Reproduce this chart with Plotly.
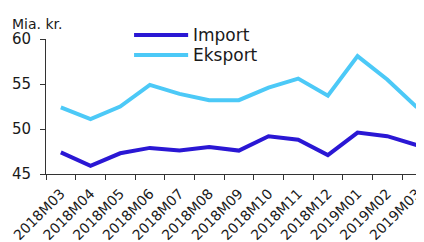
import plotly.graph_objects as go

categories = ["2018M03", "2018M04", "2018M05", "2018M06", "2018M07", "2018M08",
              "2018M09", "2018M10", "2018M11", "2018M12", "2019M01", "2019M02", "2019M03"]
import_values = [47.4, 45.9, 47.3, 47.9, 47.6, 48.0, 47.6, 49.2, 48.8, 47.1, 49.6, 49.2, 48.2]
eksport_values = [52.4, 51.1, 52.5, 54.9, 53.9, 53.2, 53.2, 54.6, 55.6, 53.7, 58.1, 55.5, 52.4]
y_ticks = [45, 50, 55, 60]
series_names = ["Import", "Eksport"]
series_colors = ["#2A17D4", "#4CC9F7"]

font_family = "DejaVu Sans, sans-serif"
text_color = "#1a1a1a"

fig = go.Figure()
for name, vals, col in zip(series_names, [import_values, eksport_values], series_colors):
    fig.add_trace(go.Scatter(x=categories, y=vals, name=name, mode="lines",
                             line=dict(color=col, width=4), showlegend=False))

# manual legend (longer line samples than plotly's native legend)
shapes = []
annotations = []
legend_y = [1.03, 0.882]
for name, col, ly in zip(series_names, series_colors, legend_y):
    shapes.append(dict(type="line", xref="paper", yref="paper", x0=0.233, x1=0.376,
                       y0=ly, y1=ly, line=dict(color=col, width=4)))
    annotations.append(dict(text=name, xref="paper", yref="paper", x=0.384, y=ly,
                            xanchor="left", yanchor="middle", showarrow=False,
                            font=dict(size=17, color=text_color)))
annotations.append(dict(text="Mia. kr.", xref="paper", yref="paper", x=-0.095, y=1.0,
                        xanchor="left", yanchor="bottom", showarrow=False,
                        font=dict(size=14, color=text_color), yshift=5))

fig.update_layout(
    width=424, height=242,
    margin=dict(l=38, r=8, t=31, b=76),
    paper_bgcolor="white", plot_bgcolor="white",
    font=dict(family=font_family, color=text_color, size=15),
    showlegend=False,
    shapes=shapes,
    annotations=annotations,
)
fig.update_xaxes(
    type="category", range=[-0.5, 12.24], automargin=False,
    showline=True, linecolor="#333", linewidth=1,
    ticks="outside", tickson="boundaries", ticklen=5, tickcolor="#333",
    tickangle=-45, tickfont=dict(size=14), showgrid=False,
    ticklabelstandoff=5,
)
fig.update_yaxes(
    range=[45, 60], tickvals=y_ticks, automargin=False,
    showline=True, linecolor="#333", linewidth=1,
    ticks="outside", ticklen=5, tickcolor="#333",
    tickfont=dict(size=15), showgrid=False, zeroline=False,
    ticklabelstandoff=6,
)

fig.write_html("out.html")
